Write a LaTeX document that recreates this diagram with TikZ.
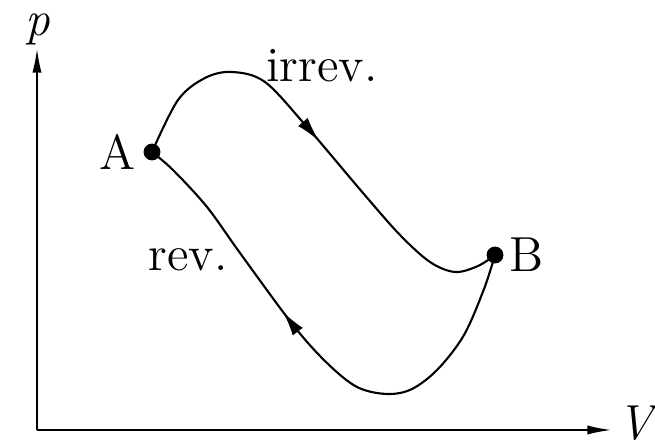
\documentclass[tikz,border=0pt]{standalone}
\usepackage{fontspec}
\usetikzlibrary{arrows.meta,positioning,decorations.markings}
\tikzset{
  lbl/.style={font=\fontsize{14}{17}\selectfont, inner sep=0pt},
  curve/.style={line width=0.6pt, smooth, tension=0.55},
  midarrow/.style={postaction={decorate, decoration={markings,
    mark=at position #1 with {\arrow{Latex[length=7pt,width=3.6pt]}}}}}
}
\begin{document}
\begin{tikzpicture}
  \useasboundingbox (0,0) rectangle (6.55,4.45);
  \coordinate (O) at (0.37,0.15);
  \coordinate (ptop) at (0.37,3.97);
  \coordinate (vend) at (6.12,0.15);
  \draw[line width=0.6pt, -{Latex[length=7pt,width=2.6pt]}] (O) -- (ptop);
  \draw[line width=0.6pt, -{Latex[length=7pt,width=2.6pt]}] (O) -- (vend);
  \node[lbl] (plabel) at (0.38,4.16) {\itshape p};
  \node[lbl] (Vlabel) at (6.35,0.22) {\itshape V};
  \coordinate (A) at (1.52,2.93);
  \coordinate (B) at (4.95,1.90);
  \draw[curve, midarrow=0.5] plot coordinates {(A) (1.78,3.45) (2.05,3.67) (2.32,3.73) (2.65,3.63) (3.07,3.18) (3.63,2.52) (4.00,2.10) (4.30,1.83) (4.55,1.73) (4.78,1.79) (B)};
  \draw[curve, midarrow=0.61] plot coordinates {(B) (4.84,1.56) (4.64,1.10) (4.38,0.76) (4.12,0.56) (3.87,0.51) (3.57,0.58) (3.27,0.82) (2.93,1.20) (2.40,1.92) (2.07,2.38) (1.73,2.75) (A)};
  \fill (A) circle (2.4pt);
  \fill (B) circle (2.4pt);
  \node[lbl, left=4.5pt of A] (Alabel) {A};
  \node[lbl, right=4pt of B] (Blabel) {B};
  \node[lbl] (irrev) at (3.22,3.79) {irrev.};
  \node[lbl] (rev) at (1.88,1.85) {rev.};
\end{tikzpicture}
\end{document}
